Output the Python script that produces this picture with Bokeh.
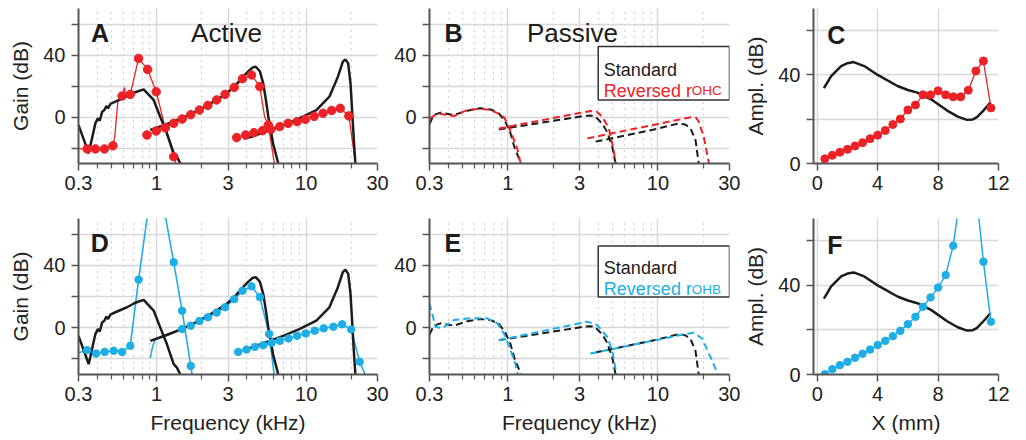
from bokeh.plotting import figure
from bokeh.layouts import row, column
from bokeh.models import FixedTicker, Range1d, CustomJSTickFormatter
from bokeh.core.properties import value
from bokeh.embed import file_html
from bokeh.resources import INLINE

# ---------------- data ----------------
# Active, standard model (black solid) - panels A and D
std_act1_f = [0.30, 0.326, 0.351, 0.389, 0.404, 0.416, 0.432, 0.447, 0.461, 0.473, 0.49, 0.529, 0.633, 0.72, 0.818, 0.954, 1.056, 1.17, 1.30, 1.365, 1.44, 1.52]
std_act1_g = [-5.2, -14.8, -23.4, -4.1, -0.9, -2.4, 3.4, 4.5, 7.1, 5.6, 8.4, 9.9, 13.1, 16.0, 17.8, 11.0, 0.2, -10.5, -23.4, -25.6, -30.0, -38.0]
std_act2_f = [0.906, 1.14, 1.48, 1.93, 2.52, 3.0, 3.3, 3.75, 4.1, 4.4, 4.6, 4.9, 5.16, 5.4, 5.58, 5.8, 6.0, 6.25, 6.47, 6.8]
std_act2_g = [-8.4, -5.0, -0.8, 4.6, 11.0, 16.0, 19.6, 25.5, 29.5, 32.0, 32.4, 29.5, 21.7, 10.0, 0.2, -8.5, -17.0, -23.5, -29.0, -36.0]
std_act3_f = [3.8, 4.2, 5.5, 7.03, 9.0, 11.7, 14.3, 16.3, 17.6, 18.3, 19.1, 19.8, 20.4, 20.9, 21.3, 21.8]
std_act3_g = [-13.8, -13.1, -9.0, -5.2, -0.9, 4.5, 13.1, 26.0, 35.7, 37.2, 34.6, 21.7, 0.2, -17.0, -28.8, -38.0]

# Active, reversed r_OHC (red) - panel A
ohc_act1_f = [0.30, 0.343, 0.389, 0.447, 0.51, 0.525, 0.55, 0.587, 0.608, 0.619, 0.666, 0.757, 0.87, 0.993, 1.14, 1.30, 1.48]
ohc_act1_g = [-20.6, -20.6, -20.6, -20.6, -18.5, -12.0, 10.0, 13.5, 19.1, 15.3, 14.6, 37.8, 30.7, 16.3, -6.9, -25.6, -42.0]
ohc_act1_dot = [False, True, True, True, True, False, False, True, False, False, True, True, True, True, True, True, False]
ohc_act2_f = [0.861, 0.993, 1.14, 1.30, 1.48, 1.69, 1.93, 2.20, 2.52, 2.87, 3.30, 3.75, 4.31, 4.9, 5.27, 5.58, 6.1, 6.4]
ohc_act2_g = [-11.6, -9.0, -6.9, -4.1, -1.3, 1.5, 4.5, 7.5, 11.0, 14.6, 19.1, 24.7, 27.1, 19.6, 0.2, -5.2, -28.8, -40.0]
ohc_act2_dot = [True] * 14 + [False, True, False, False]
ohc_act3_f = [3.43, 3.94, 4.47, 5.11, 5.80, 6.66, 7.57, 8.69, 9.88, 11.3, 12.96, 14.8, 16.9, 19.3, 21.3, 21.8]
ohc_act3_g = [-13.3, -11.6, -10.1, -8.8, -8.0, -6.2, -4.1, -3.0, -1.5, 0.4, 2.4, 4.2, 5.6, 0.7, -28.8, -40.0]
ohc_act3_dot = [True] * 14 + [False, False]

# Active, reversed r_OHB (blue) - panel D
ohb_act1_f = [0.30, 0.343, 0.393, 0.449, 0.516, 0.587, 0.666, 0.757, 0.87, 0.993, 1.14, 1.30, 1.48, 1.69, 1.93]
ohb_act1_g = [-16.1, -14.4, -16.6, -15.5, -14.8, -15.5, -11.6, 30.8, 73.0, 95.0, 72.4, 41.9, 10.8, -24.5, -60.0]
ohb_act1_dot = [False] + [True] * 14
ohb_act2_f = [0.906, 0.94, 0.977, 1.14, 1.30, 1.48, 1.69, 1.93, 2.20, 2.52, 2.87, 3.30, 3.75, 4.31, 4.9, 5.65, 6.1, 6.4]
ohb_act2_g = [-19.5, -12.0, -7.5, -5.5, -3.3, -0.9, 1.3, 4.3, 6.7, 9.7, 13.1, 18.3, 23.7, 26.5, 19.6, -4.1, -29.5, -45.0]
ohb_act2_dot = [False] * 5 + [True] * 11 + [False, False]
ohb_act3_f = [3.51, 3.99, 4.54, 5.16, 5.87, 6.66, 7.62, 8.69, 9.93, 11.4, 13.1, 15.2, 17.4, 20.0, 22.8, 24.7, 26.0]
ohb_act3_g = [-15.5, -14.0, -12.3, -11.2, -9.7, -8.4, -6.9, -5.2, -3.7, -1.9, -0.4, 0.6, 2.2, -1.1, -21.9, -29.5, -40.0]
ohb_act3_dot = [True] * 15 + [False, False]

# Passive, standard (black dashed) - panels B and E
std_pas1_f = [0.30, 0.32, 0.355, 0.436, 0.536, 0.655, 0.766, 0.87, 0.96, 1.04, 1.11, 1.21, 1.28]
std_pas1_g = [-4.5, 1.3, 2.8, 1.3, 4.1, 5.6, 4.9, 2.4, -3.0, -10.5, -20.2, -28.8, -38.0]
std_pas2_f = [0.87, 2.0, 3.2, 3.54, 3.8, 4.03, 4.3, 4.58, 4.96, 5.22, 5.5]
std_pas2_g = [-8.0, -2.5, 0.6, 1.0, 0.5, -1.9, -5.0, -9.5, -19.1, -30.0, -40.0]
std_pas3_f = [3.84, 10.0, 13.5, 15.2, 16.5, 17.8, 18.7, 19.5]
std_pas3_g = [-15.9, -7.5, -4.3, -4.8, -7.3, -14.8, -30.0, -40.0]

# Passive, reversed r_OHC (red dashed) - panel B
ohc_pas1_f = [0.30, 0.33, 0.355, 0.436, 0.536, 0.655, 0.766, 0.87, 0.94, 1.01, 1.08, 1.15, 1.21, 1.28]
ohc_pas1_g = [-1.0, 1.5, 2.0, 0.6, 4.5, 5.3, 4.5, 2.0, 0.0, -6.0, -13.0, -20.0, -29.0, -38.0]
ohc_pas2_f = [0.87, 2.0, 3.54, 3.9, 4.14, 4.45, 4.71, 5.07, 5.22, 5.5]
ohc_pas2_g = [-7.4, -0.7, 3.9, 3.5, 1.3, -3.0, -7.3, -21.3, -30.0, -40.0]
ohc_pas3_f = [3.38, 10.0, 16.5, 18.0, 18.7, 20.2, 21.9, 23.0]
ohc_pas3_g = [-13.8, -4.5, -0.2, -0.5, -3.0, -12.7, -30.0, -40.0]

# Passive, reversed r_OHB (blue dashed) - panel E
ohb_pas1_f = [0.30, 0.329, 0.364, 0.436, 0.563, 0.727, 0.85, 0.94, 1.04, 1.12, 1.16, 1.22]
ohb_pas1_g = [15.7, 0.6, -0.4, 4.9, 6.0, 6.0, 2.8, -3.7, -14.4, -23.0, -29.5, -40.0]
ohb_pas2_f = [0.87, 2.0, 3.38, 3.94, 4.58, 4.96, 5.28, 5.6]
ohb_pas2_g = [-8.0, -0.7, 3.9, 1.7, -5.8, -14.4, -29.5, -40.0]
ohb_pas3_f = [3.54, 10.0, 14.1, 17.3, 19.7, 22.4, 25.0, 26.5]
ohb_pas3_g = [-16.6, -7.7, -4.7, -3.2, -6.9, -18.7, -29.5, -40.0]

# Amplitude vs place (panels C and F)
std_x = [0.44, 0.92, 1.58, 2.0, 2.41, 3.11, 4.0, 5.31, 6.0, 6.63, 7.53, 8.6, 9.3, 9.92, 10.3, 10.58, 11.0, 11.48]
std_amp = [34.0, 39.5, 44.0, 45.3, 45.8, 44.0, 40.0, 35.0, 33.2, 32.0, 29.0, 23.9, 21.2, 19.7, 19.9, 20.9, 23.9, 27.6]
place_x = [0.5, 1.0, 1.5, 2.0, 2.5, 3.0, 3.5, 4.0, 4.5, 5.0, 5.5, 6.0, 6.5, 7.0, 7.5, 8.0, 8.5, 9.0, 9.5, 10.0, 10.5, 11.0, 11.5]
ohc_amp = [2.1, 3.7, 5.1, 6.4, 7.9, 9.4, 11.2, 12.8, 14.9, 17.6, 20.1, 24.2, 26.4, 31.0, 31.0, 32.8, 31.0, 30.1, 30.1, 33.1, 41.8, 46.3, 25.1]
ohb_amp = [0.15, 2.4, 4.2, 5.7, 7.5, 9.3, 11.2, 13.2, 15.1, 17.2, 19.6, 22.6, 25.9, 30.4, 34.6, 39.0, 44.6, 57.8, 82.0, 95.0, 83.0, 50.6, 23.7]

freq_ticks = [0.3, 1, 3, 10, 30]
freq_minor = [0.4, 0.5, 0.6, 0.7, 0.8, 0.9, 2, 4, 5, 6, 7, 8, 9, 20]
gain_ticks = [-20, 0, 20, 40, 60]
gain_labels = [0, 40]
x_ticks = [0, 4, 8, 12]
amp_ticks = [0, 20, 40, 60]
amp_labels = [0, 40]

# ---------------- style ----------------
FONT = "Liberation Sans"
RED = "#ec2227"
BLUE = "#1eaee6"
BLACK = "#1c1c1c"
GRID = "#d8d8d8"
DOT = "#a8a8a8"
AXIS = "#555555"
TXT = "#222222"


def make_fig(x_log, xr, yr, xt, xm, yt, ylab, xlabel, ylabel, bl, br, bt, bb, fw, fh):
    p = figure(x_axis_type="log" if x_log else "linear",
               x_range=Range1d(*xr), y_range=Range1d(*yr),
               width=bl + fw + br, height=bt + fh + bb,
               min_border_left=bl, min_border_right=br, min_border_top=bt, min_border_bottom=bb,
               output_backend="svg", toolbar_location=None)
    p.outline_line_color = None
    p.background_fill_color = "white"
    p.border_fill_color = "white"
    xtick = FixedTicker(ticks=xt, minor_ticks=xm)
    ytick = FixedTicker(ticks=yt, minor_ticks=[])
    p.xaxis.ticker = xtick
    p.yaxis.ticker = ytick
    p.xgrid.ticker = xtick
    p.ygrid.ticker = ytick
    p.xaxis.formatter = CustomJSTickFormatter(code="return String(tick);")
    p.yaxis.formatter = CustomJSTickFormatter(
        code="return (%s).indexOf(tick) >= 0 ? String(tick) : '';" % str(ylab))
    for ax in (p.xaxis[0], p.yaxis[0]):
        ax.axis_line_color = AXIS
        ax.axis_line_width = 2
        ax.major_tick_line_color = AXIS
        ax.major_tick_line_width = 1.5
        ax.minor_tick_line_color = AXIS
        ax.minor_tick_line_width = 1.2
        ax.major_tick_in = 0
        ax.major_tick_out = 7
        ax.minor_tick_in = 0
        ax.minor_tick_out = 5
        ax.major_label_text_font = FONT
        ax.major_label_text_font_size = "20px"
        ax.major_label_text_color = TXT
        ax.axis_label_text_font = FONT
        ax.axis_label_text_font_size = "21px"
        ax.axis_label_text_font_style = "normal"
        ax.axis_label_text_color = TXT
    p.xaxis.major_label_standoff = 5
    p.yaxis.major_label_standoff = 6
    p.xaxis.axis_label_standoff = 7
    p.yaxis.axis_label_standoff = 8
    p.xaxis.axis_label = xlabel
    p.yaxis.axis_label = ylabel
    p.xgrid.grid_line_color = GRID
    p.xgrid.grid_line_width = 1.5
    p.ygrid.grid_line_color = GRID
    p.ygrid.grid_line_width = 1.5
    if xm:
        p.xgrid.minor_grid_line_color = DOT
        p.xgrid.minor_grid_line_width = 1.2
        p.xgrid.minor_grid_line_dash = "1 5"
    return p


def letter(p, x, y, t):
    p.text(x=[x], y=[y], text=[t], text_font=value(FONT), text_font_size="25px",
           text_font_style="bold", text_color=BLACK, text_align="left", text_baseline="alphabetic")


def title(p, x, y, t):
    p.text(x=[x], y=[y], text=[t], text_font=value(FONT), text_font_size="26px",
           text_color=BLACK, text_align="center", text_baseline="alphabetic")


def dotted(p, f, g, mask, color, size):
    xs = [a for a, m in zip(f, mask) if m]
    ys = [b for b, m in zip(g, mask) if m]
    p.scatter(xs, ys, size=size, color=color, line_color=color)


def legend(p, top, bottom, y1, y2, color, sub):
    p.quad(left=[4.0], right=[30], top=[top], bottom=[bottom], fill_color="white",
           line_color="#333333", line_width=1.5)
    p.text(x=[4.36], y=[y1], text=["Standard"], text_font=value(FONT), text_font_size="18px",
           text_color=BLACK, text_baseline="alphabetic")
    p.text(x=[4.36], y=[y2], text=["Reversed r"], text_font=value(FONT), text_font_size="18px",
           text_color=color, text_baseline="alphabetic")
    p.text(x=[4.36], y=[y2], x_offset=88, text=[sub], text_font=value(FONT), text_font_size="13.5px",
           text_color=color, text_baseline="alphabetic")


FW = [299, 300, 185]
BL = [78, 40, 73]
BR = [12, 11, 28]

# ---------- A ----------
pA = make_fig(True, (0.3, 30), (-30, 70), freq_ticks, freq_minor, gain_ticks, gain_labels,
              None, "Gain (dB)", BL[0], BR[0], 8, 40, FW[0], 155)
for f, g in ((ohc_act1_f, ohc_act1_g), (ohc_act2_f, ohc_act2_g), (ohc_act3_f, ohc_act3_g)):
    pA.line(f, g, color=RED, line_width=1.3)
for f, g in ((std_act1_f, std_act1_g), (std_act2_f, std_act2_g), (std_act3_f, std_act3_g)):
    pA.line(f, g, color=BLACK, line_width=2.5)
dotted(pA, ohc_act1_f, ohc_act1_g, ohc_act1_dot, RED, 8.5)
dotted(pA, ohc_act2_f, ohc_act2_g, ohc_act2_dot, RED, 8.5)
dotted(pA, ohc_act3_f, ohc_act3_g, ohc_act3_dot, RED, 8.5)
letter(pA, 0.364, 54, "A")
title(pA, 2.93, 54, "Active")

# ---------- B ----------
pB = make_fig(True, (0.3, 30), (-30, 70), freq_ticks, freq_minor, gain_ticks, gain_labels,
              None, None, BL[1], BR[1], 8, 40, FW[1], 155)
for f, g in ((std_pas1_f, std_pas1_g), (std_pas2_f, std_pas2_g), (std_pas3_f, std_pas3_g)):
    pB.line(f, g, color=BLACK, line_width=2, line_dash="7 4")
for f, g in ((ohc_pas1_f, ohc_pas1_g), (ohc_pas2_f, ohc_pas2_g), (ohc_pas3_f, ohc_pas3_g)):
    pB.line(f, g, color=RED, line_width=2, line_dash="7 4")
letter(pB, 0.377, 54, "B")
title(pB, 2.69, 54, "Passive")
legend(pB, 45.5, 11.0, 30.3, 17.0, RED, "OHC")

# ---------- C ----------
pC = make_fig(False, (-0.25, 12), (0, 70), x_ticks, [], amp_ticks, amp_labels,
              None, "Ampl. (dB)", BL[2], BR[2], 8, 40, FW[2], 155)
pC.line(std_x, std_amp, color=BLACK, line_width=2.5)
pC.line(place_x, ohc_amp, color=RED, line_width=1.3)
pC.scatter(place_x, ohc_amp, size=8, color=RED)
letter(pC, 0.66, 58, "C")

# ---------- D ----------
pD = make_fig(True, (0.3, 30), (-30, 70), freq_ticks, freq_minor, gain_ticks, gain_labels,
              "Frequency (kHz)", "Gain (dB)", BL[0], BR[0], 15, 66, FW[0], 156)
for f, g in ((ohb_act1_f, ohb_act1_g), (ohb_act2_f, ohb_act2_g), (ohb_act3_f, ohb_act3_g)):
    pD.line(f, g, color=BLUE, line_width=1.6)
for f, g in ((std_act1_f, std_act1_g), (std_act2_f, std_act2_g), (std_act3_f, std_act3_g)):
    pD.line(f, g, color=BLACK, line_width=2.5)
dotted(pD, ohb_act1_f, ohb_act1_g, ohb_act1_dot, BLUE, 7.5)
dotted(pD, ohb_act2_f, ohb_act2_g, ohb_act2_dot, BLUE, 7.5)
dotted(pD, ohb_act3_f, ohb_act3_g, ohb_act3_dot, BLUE, 7.5)
letter(pD, 0.362, 54.5, "D")

# ---------- E ----------
pE = make_fig(True, (0.3, 30), (-30, 70), freq_ticks, freq_minor, gain_ticks, gain_labels,
              "Frequency (kHz)", None, BL[1], BR[1], 15, 66, FW[1], 156)
for f, g in ((std_pas1_f, std_pas1_g), (std_pas2_f, std_pas2_g), (std_pas3_f, std_pas3_g)):
    pE.line(f, g, color=BLACK, line_width=2, line_dash="7 4")
for f, g in ((ohb_pas1_f, ohb_pas1_g), (ohb_pas2_f, ohb_pas2_g), (ohb_pas3_f, ohb_pas3_g)):
    pE.line(f, g, color=BLUE, line_width=2, line_dash="7 4")
letter(pE, 0.377, 54.5, "E")
legend(pE, 52.3, 19.6, 38.3, 24.8, BLUE, "OHB")

# ---------- F ----------
pF = make_fig(False, (-0.25, 12), (0, 70), x_ticks, [], amp_ticks, amp_labels,
              "X (mm)", "Ampl. (dB)", BL[2], BR[2], 15, 66, FW[2], 156)
pF.line(std_x, std_amp, color=BLACK, line_width=2.5)
pF.line(place_x, ohb_amp, color=BLUE, line_width=1.5)
pF.scatter(place_x, ohb_amp, size=7.5, color=BLUE)
letter(pF, 0.66, 58, "F")

layout = column(row(pA, pB, pC, spacing=0), row(pD, pE, pF, spacing=0), spacing=0)
open("out.html", "w").write(file_html(layout, INLINE))
